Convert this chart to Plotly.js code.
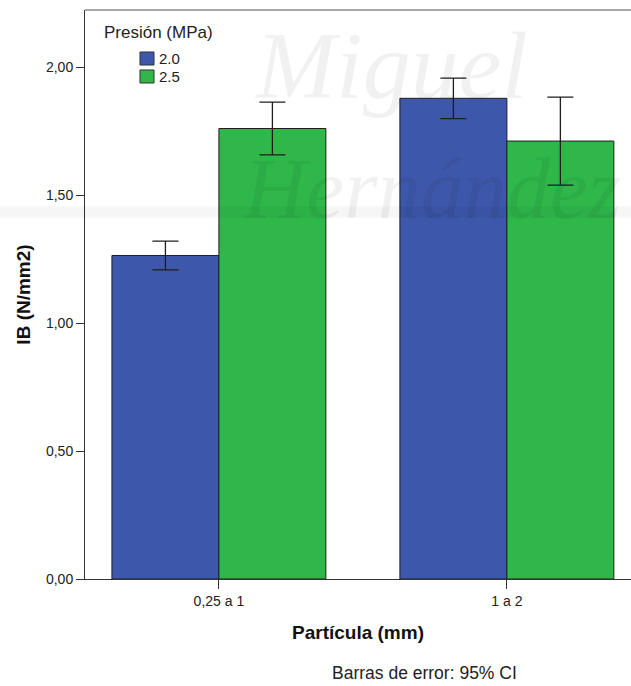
<!DOCTYPE html>
<html>
<head>
<meta charset="utf-8">
<script src="https://cdn.plot.ly/plotly-3.0.1.min.js"></script>
<style>
  html, body { margin: 0; padding: 0; background: #ffffff; }
  #chart { width: 631px; height: 686px; }
</style>
</head>
<body>
<div id="chart"></div>
<script>
// Particle size groups on the x axis
const categories = ['0,25 a 1', '1 a 2'];

// Pressing pressure series (MPa)
const seriesNames = ['2.0', '2.5'];
const seriesColors = ['#3d58ab', '#2fb74a'];

// Mean internal bond (N/mm2) per particle group
const ib_20 = [1.264, 1.878];
const ib_25 = [1.760, 1.711];

// 95% confidence half-widths
const ci_20 = [0.056, 0.079];
const ci_25 = [0.103, 0.172];

const yTicks = [0, 0.5, 1.0, 1.5, 2.0];

const values = [ib_20, ib_25];
const cis = [ci_20, ci_25];

const traces = seriesNames.map((name, i) => ({
  type: 'bar',
  name: name,
  x: categories,
  y: values[i],
  marker: { color: seriesColors[i], line: { color: '#1e1e1e', width: 1 } },
  error_y: { type: 'data', array: cis[i], visible: true, color: '#1e1e1e', thickness: 1.3, width: 13 },
  hoverinfo: 'skip',
  showlegend: false
}));

const font = 'Liberation Sans, Arial, sans-serif';

// Legend block drawn in paper coordinates (title, swatches, labels)
const legendShapes = seriesColors.map((c, i) => ({
  type: 'rect', xref: 'paper', yref: 'paper',
  x0: 0.1007, x1: 0.1264,
  y0: 0.9262 - i * 0.0316, y1: 0.9033 - i * 0.0316,
  fillcolor: c, line: { color: '#333333', width: 1 }
}));
const legendLabels = seriesNames.map((n, i) => ({
  text: n, xref: 'paper', yref: 'paper',
  x: 0.1310, y: 0.9148 - i * 0.0316,
  xanchor: 'left', yanchor: 'middle', showarrow: false,
  font: { family: font, size: 15, color: '#222222' }
}));

const layout = {
  width: 631,
  height: 686,
  margin: { l: 85, r: 0, t: 10, b: 107 },
  paper_bgcolor: '#ffffff',
  plot_bgcolor: 'rgba(0,0,0,0)',
  separators: ',.',
  barmode: 'group',
  bargap: 0.257,
  bargroupgap: 0,
  font: { family: font, size: 14, color: '#222222' },
  showlegend: false,
  xaxis: {
    type: 'category',
    range: [-0.465, 1.431],
    showgrid: false,
    zeroline: false,
    showline: true,
    linecolor: '#333333',
    linewidth: 1,
    ticks: 'outside',
    ticklen: 9,
    tickcolor: '#333333',
    tickfont: { family: font, size: 14, color: '#222222' },
    title: {
      text: 'Partícula (mm)',
      font: { family: font, size: 19, color: '#111111', weight: 'bold' },
      standoff: 17
    },
    fixedrange: true
  },
  yaxis: {
    range: [0, 2.223],
    tickvals: yTicks,
    tickformat: '.2f',
    showgrid: false,
    zeroline: false,
    showline: true,
    linecolor: '#333333',
    linewidth: 1,
    ticks: 'outside',
    ticklen: 8,
    tickcolor: '#333333',
    tickfont: { family: font, size: 14, color: '#222222' },
    title: {
      text: 'IB (N/mm2)',
      font: { family: font, size: 19, color: '#111111', weight: 'bold' },
      standoff: 10
    },
    fixedrange: true
  },
  shapes: [
    // frame line along the top of the plotting area
    { type: 'line', xref: 'paper', yref: 'paper', x0: 0, x1: 1, y0: 1, y1: 1,
      line: { color: '#8a8a8a', width: 1.5 } },
    // faint band of the background watermark
    { type: 'rect', xref: 'paper', yref: 'paper', x0: -0.16, x1: 1, y0: 0.635, y1: 0.655,
      fillcolor: 'rgba(0,0,0,0.035)', line: { width: 0 }, layer: 'above' }
  ].concat(legendShapes),
  annotations: [
    { text: 'Presión (MPa)', xref: 'paper', yref: 'paper', x: 0.031, y: 0.9596,
      xanchor: 'left', yanchor: 'middle', showarrow: false,
      font: { family: font, size: 17, color: '#222222' } },
    { text: 'Barras de error: 95% CI', xref: 'paper', yref: 'paper', x: 0.6218, y: -0.165,
      xanchor: 'center', yanchor: 'middle', showarrow: false,
      font: { family: font, size: 17.5, color: '#222222' } },
    // watermark lettering
    { text: '<i>Miguel</i>', xref: 'paper', yref: 'paper', x: 0.305, y: 0.903,
      xanchor: 'left', yanchor: 'middle', showarrow: false,
      font: { family: 'Liberation Serif, DejaVu Serif, serif', size: 96, color: 'rgba(0,0,0,0.055)' } },
    { text: '<i>Hernández</i>', xref: 'paper', yref: 'paper', x: 0.285, y: 0.685,
      xanchor: 'left', yanchor: 'middle', showarrow: false,
      font: { family: 'Liberation Serif, DejaVu Serif, serif', size: 86, color: 'rgba(0,0,0,0.055)' } }
  ].concat(legendLabels)
};

Plotly.newPlot('chart', traces, layout, { staticPlot: true, displayModeBar: false });
</script>
</body>
</html>
